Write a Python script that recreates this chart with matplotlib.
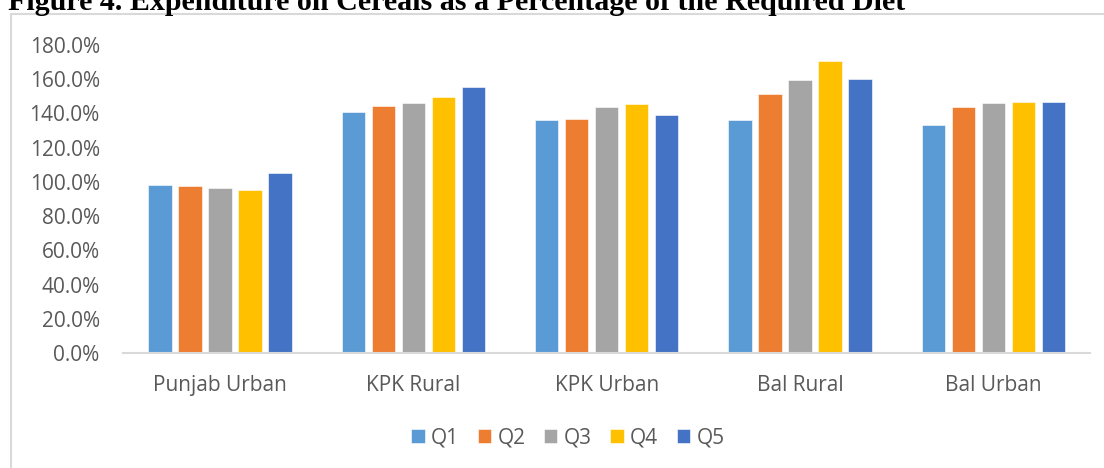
import numpy as np
import matplotlib
matplotlib.use('Agg')
import matplotlib.pyplot as plt
from matplotlib.patches import Rectangle

# data (% of required diet)
regions = ['Punjab Urban', 'KPK Rural', 'KPK Urban', 'Bal Rural', 'Bal Urban']
quintiles = ['Q1', 'Q2', 'Q3', 'Q4', 'Q5']
q1 = [98.0, 140.7, 136.4, 136.4, 133.1]
q2 = [97.6, 144.4, 136.8, 151.3, 143.8]
q3 = [96.4, 146.3, 143.6, 159.3, 146.1]
q4 = [95.3, 149.6, 145.5, 170.5, 146.7]
q5 = [105.4, 155.6, 138.9, 159.9, 146.7]
colors = ['#5B9BD5', '#ED7D31', '#A5A5A5', '#FFC000', '#4472C4']
title = 'Figure 4. Expenditure on Cereals as a Percentage of the Required Diet'

W, H = 1104, 468
fs = 15
fig = plt.figure(figsize=(W/100, H/100), dpi=100)

# chart area border (runs off the right and bottom of the crop)
fig.patches.append(Rectangle((11/W, -0.05), 1.2, 1 - 13.5/H + 0.05, transform=fig.transFigure,
                             fill=False, edgecolor='#D9D9D9', linewidth=1.5, zorder=0))

ax = fig.add_axes([123.3/W, 1 - 353/H, (1090 - 123.3)/W, (353 - 45)/H])
x = np.arange(len(regions))
pitch = 0.155
width = 0.121
series = [q1, q2, q3, q4, q5]
for i in range(len(series)):
    ax.bar(x + (i - 2)*pitch, series[i], width, color=colors[i], label=quintiles[i],
           edgecolor='white', linewidth=0.4, zorder=2)

ax.set_xlim(-0.5, len(regions) - 0.5)
ax.set_ylim(0, 180)
ax.set_yticks(np.arange(0, 181, 20))
ax.set_yticklabels(['%.1f%%' % v for v in np.arange(0, 181, 20)])
ax.set_xticks(x)
ax.set_xticklabels(regions)
for s in ['top', 'right', 'left']:
    ax.spines[s].set_visible(False)
ax.spines['bottom'].set_color('#D9D9D9')
ax.spines['bottom'].set_linewidth(1.5)
ax.tick_params(axis='both', length=0, labelsize=fs, labelcolor='#595959')
ax.tick_params(axis='y', pad=17)
ax.tick_params(axis='x', pad=16)
for lab in ax.get_xticklabels() + ax.get_yticklabels():
    lab.set_fontfamily('Open Sans')

leg = fig.legend(loc='center', bbox_to_anchor=(568/W, 1 - 438/H), ncol=5, frameon=False,
                 handlelength=0.64, handleheight=0.64, handletextpad=0.3, columnspacing=0.9,
                 prop={'family': 'Open Sans', 'size': fs})
for t in leg.get_texts():
    t.set_color('#595959')

# title, cut off at the top like the reference; size it to the measured width
tt = fig.text(8/W, 1 - 9.5/H, title, ha='left', va='baseline', fontweight='bold',
              family='Liberation Serif', fontsize=19, color='black')
fig.canvas.draw()
w = tt.get_window_extent().width
tt.set_fontsize(19 * 898 / w)

fig.savefig('out.png', dpi=100)
